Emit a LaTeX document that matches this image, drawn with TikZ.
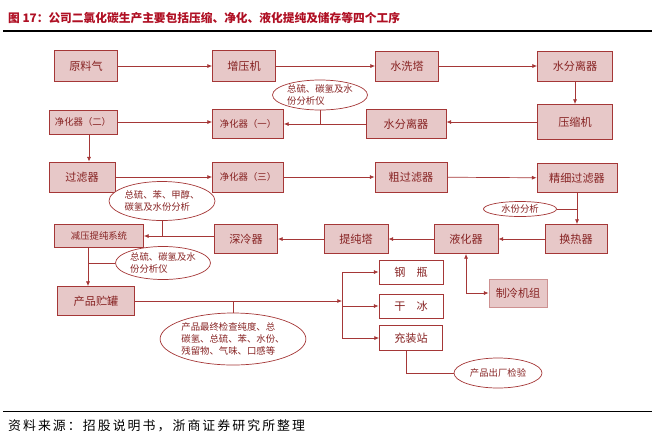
\documentclass[tikz,border=0pt]{standalone}
\usepackage{fontspec}
\setmainfont{Noto Sans CJK SC}
\usetikzlibrary{shapes.geometric,arrows.meta}

\definecolor{linered}{RGB}{165,55,55}
\definecolor{boxfill}{RGB}{231,200,200}
\definecolor{textred}{RGB}{135,35,35}
\definecolor{titlered}{RGB}{175,15,35}

\begin{document}
\begin{tikzpicture}[x=0.03cm,y=-0.03cm]
  \tikzset{
    box/.style={draw=linered, fill=boxfill, line width=0.8pt, text=textred,
      font=\fontsize{9.5}{11}\selectfont, inner sep=0pt},
    small_box/.style={box, font=\fontsize{8}{10}\selectfont},
    white_box/.style={box, fill=white},
    chill_box/.style={box, draw=linered!55},
    note/.style={ellipse, draw=linered, line width=0.6pt, fill=white, text=textred,
      font=\fontsize{8}{10}\selectfont, inner sep=0pt, align=left},
    flow/.style={draw=linered, line width=0.6pt, -{Latex[length=4pt,width=3.5pt]}},
    link/.style={draw=linered, line width=0.6pt},
  }

  \useasboundingbox (0,0) rectangle (655,439);

  % title
  \node[anchor=west, text=titlered, font=\fontsize{10}{12}\selectfont\bfseries]
    (title) at (4,18) {图 17：公司二氯化碳生产主要包括压缩、净化、液化提纯及储存等四个工序};
  \draw[line width=1pt] (3,31) -- (652,31);

  % compression
  \node[box, minimum width=1.89cm, minimum height=0.93cm] (raw_gas) at (86,66) {原料气};
  \node[box, minimum width=1.89cm, minimum height=0.93cm] (booster) at (244,66) {增压机};
  \node[box, minimum width=1.89cm, minimum height=0.90cm] (wash_tower) at (407,66) {水洗塔};
  \node[box, minimum width=2.25cm, minimum height=0.90cm] (separator_a) at (575,66) {水分离器};
  \node[box, minimum width=2.25cm, minimum height=1.05cm] (compressor) at (575,122) {压缩机};
  \node[box, minimum width=2.40cm, minimum height=0.87cm] (separator_b) at (406,124) {水分离器};

  % purification
  \node[small_box, minimum width=2.13cm, minimum height=0.87cm] (purifier_a) at (248,124) {净化器（一）};
  \node[small_box, minimum width=2.04cm, minimum height=0.72cm] (purifier_b) at (83,122) {净化器（二）};
  \node[box, minimum width=1.98cm, minimum height=0.90cm] (filter) at (82,177) {过滤器};
  \node[small_box, minimum width=2.13cm, minimum height=0.90cm] (purifier_c) at (248,177) {净化器（三）};
  \node[box, minimum width=2.16cm, minimum height=0.90cm] (coarse_filter) at (411,177) {粗过滤器};
  \node[box, minimum width=2.40cm, minimum height=0.87cm] (fine_filter) at (577,178) {精细过滤器};

  % liquefaction
  \node[box, minimum width=1.86cm, minimum height=0.87cm] (heat_exch) at (576,239) {换热器};
  \node[box, minimum width=1.92cm, minimum height=0.87cm] (liquefier) at (466,239) {液化器};
  \node[box, minimum width=1.92cm, minimum height=0.87cm] (purif_tower) at (356,239) {提纯塔};
  \node[box, minimum width=1.89cm, minimum height=0.87cm] (deep_cooler) at (246,239) {深冷器};
  \node[small_box, minimum width=2.67cm, minimum height=0.69cm] (decomp) at (99,236) {减压提纯系统};
  \node[chill_box, minimum width=1.74cm, minimum height=0.84cm] (chiller) at (518,293) {制冷机组};

  % storage
  \node[box, minimum width=2.31cm, minimum height=0.87cm] (storage) at (96,301) {产品贮罐};
  \node[white_box, minimum width=1.92cm, minimum height=0.72cm] (cylinder) at (411,272) {钢\quad 瓶};
  \node[white_box, minimum width=1.92cm, minimum height=0.72cm] (dry_ice) at (411,306) {干\quad 冰};
  \node[white_box, minimum width=1.89cm, minimum height=0.75cm] (filling) at (411,338) {充装站};

  % analysers
  \node[note, minimum width=2.85cm, minimum height=0.90cm] (note_a) at (320,95)
    {总硫、碳氢及水\\份分析仪};
  \node[note, minimum width=3.03cm, minimum height=1.17cm] (note_b) at (162,201)
    {总硫、苯、甲醇、\\碳氢及水份分析};
  \node[note, minimum width=2.85cm, minimum height=0.99cm] (note_c) at (163,263)
    {总硫、碳氢及水\\份分析仪};
  \node[note, minimum width=2.19cm, minimum height=0.45cm] (note_d) at (520,209) {水份分析};
  \node[note, minimum width=4.14cm, minimum height=1.56cm] (note_e) at (233,339)
    {产品最终检查纯度、总\\碳氢、总硫、苯、水份、\\残留物、气味、口感等};
  \node[note, minimum width=2.64cm, minimum height=0.90cm] (note_f) at (498,373) {产品出厂检验};

  % connectors, top rows
  \draw[flow] (raw_gas) -- (booster);
  \draw[flow] (booster) -- (wash_tower);
  \draw[flow] (wash_tower) -- (separator_a);
  \draw[flow] (separator_a) -- (compressor);
  \draw[flow] (compressor.west) -- (compressor.west -| separator_b.east);
  \draw[flow] (separator_b.west |- purifier_a.east) -- (purifier_a.east);
  \draw[link] (note_a.south) -- (note_a.south |- purifier_a.east);
  \draw[flow] (purifier_b.east) -- (purifier_b.east -| purifier_a.west);
  \draw[flow] ([xshift=0.18cm]purifier_b.south) -- ([xshift=0.18cm]purifier_b.south |- filter.north);
  \draw[flow] (filter) -- (purifier_c);
  \draw[flow] (purifier_c) -- (coarse_filter);
  \draw[flow] (coarse_filter) -- (fine_filter);
  \draw[flow] (fine_filter.south) -- (fine_filter.south |- heat_exch.north);
  \draw[link] (note_d.east) -- (note_d.east -| fine_filter.south);

  % connectors, liquefaction row
  \draw[flow] (heat_exch) -- (liquefier);
  \draw[flow] (liquefier) -- (purif_tower);
  \draw[flow] (purif_tower) -- (deep_cooler);
  \draw[flow] (decomp.east -| deep_cooler.west) -- (decomp.east);
  \draw[link] (note_b.south) -- (note_b.south |- decomp.east);
  \draw[{Latex[length=4pt,width=3.5pt]}-{Latex[length=4pt,width=3.5pt]}, draw=linered, line width=0.6pt]
    (liquefier.south) |- (chiller.west);

  % connectors, storage
  \draw[flow] ([xshift=-0.33cm]decomp.south) -- ([xshift=-0.33cm]decomp.south |- storage.north);
  \draw[link] (note_c.west) -- (note_c.west -| 88,0);
  \coordinate (bus_top) at (342,272);
  \coordinate (bus_bot) at (342,338);
  \draw[flow] (storage.east) -- (storage.east -| bus_top);
  \draw[link] (note_e.north) -- (note_e.north |- storage.east);
  \draw[link] (bus_top) -- (bus_bot);
  \draw[flow] (bus_top) -- (bus_top -| cylinder.west);
  \draw[flow] (bus_top |- dry_ice.west) -- (dry_ice.west);
  \draw[flow] (bus_bot) -- (bus_bot -| filling.west);
  \draw[link] ([xshift=-0.15cm]filling.south) |- (note_f.west);

  % source
  \draw[line width=0.8pt] (3,411) -- (652,411);
  \node[anchor=west, font=\fontsize{11}{13}\selectfont\addfontfeatures{LetterSpace=16}]
    (source) at (4,426) {资料来源：招股说明书，浙商证券研究所整理};
\end{tikzpicture}
\end{document}
